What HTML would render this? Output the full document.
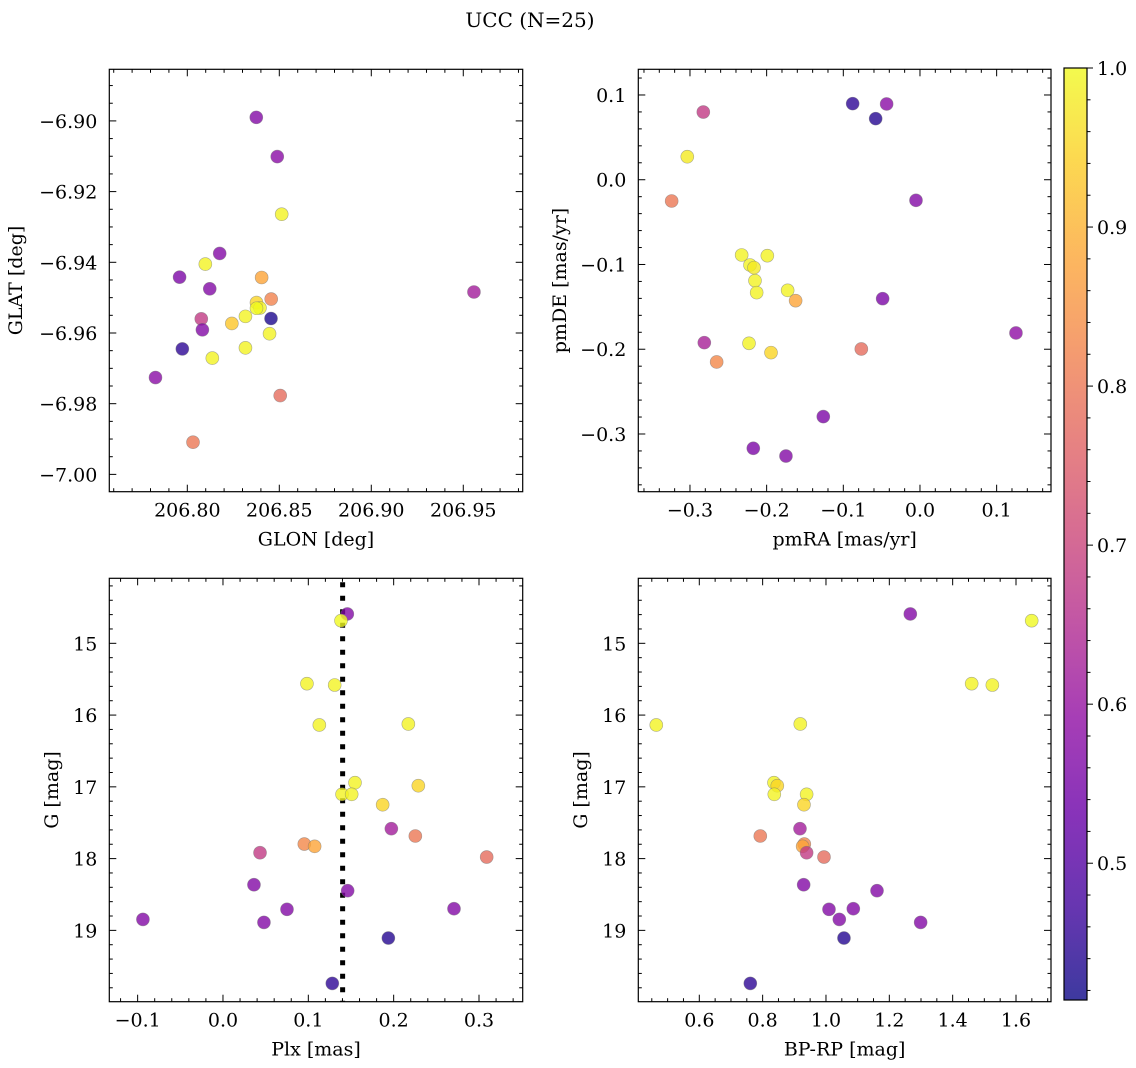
<!DOCTYPE html>
<html><head><meta charset="utf-8">
<style>
html,body{margin:0;padding:0;background:#fff;}
svg{display:block;font-family:"DejaVu Serif","Liberation Serif",serif;}
</style></head>
<body>
<svg id="fig" width="1136" height="1068" viewBox="0 0 1136 1068" xmlns="http://www.w3.org/2000/svg">
<text x="530" y="27" font-size="20" text-anchor="middle">UCC (N=25)</text>
</svg>
<script>
// ---- data ----
const glon = [206.8375,206.8489,206.8513,206.8176,206.8098,206.7958,206.8404,206.8122,206.9558,206.8456,206.8376,206.8395,206.8376,206.8316,206.8076,206.8455,206.8242,206.8082,206.8447,206.7973,206.8316,206.8136,206.7827,206.8505,206.8031];
const glat = [-6.8990,-6.9101,-6.9264,-6.9375,-6.9405,-6.9442,-6.9443,-6.9475,-6.9484,-6.9504,-6.9514,-6.9529,-6.9530,-6.9553,-6.9560,-6.9559,-6.9573,-6.9591,-6.9602,-6.9645,-6.9642,-6.9671,-6.9726,-6.9777,-6.9909];
const probPos = [0.57,0.58,0.99,0.57,0.99,0.56,0.88,0.57,0.62,0.82,0.95,0.99,1.00,0.99,0.68,0.43,0.93,0.57,0.99,0.45,0.99,0.99,0.58,0.78,0.80];

const pmra = [-0.0878,-0.0435,-0.0578,-0.2826,-0.3035,-0.3239,-0.0052,-0.2326,-0.1991,-0.2217,-0.2165,-0.2152,-0.2130,-0.1726,-0.1622,-0.0487,0.1252,-0.2813,-0.2230,-0.1943,-0.0765,-0.2652,-0.1261,-0.2174,-0.1748];
const pmde = [0.0898,0.0894,0.0721,0.0799,0.0272,-0.0251,-0.0243,-0.0888,-0.0896,-0.1006,-0.1037,-0.1191,-0.1332,-0.1305,-0.1427,-0.1403,-0.1808,-0.1922,-0.1930,-0.2040,-0.1997,-0.2150,-0.2795,-0.3169,-0.3260];
const probPm = [0.45,0.58,0.44,0.68,0.98,0.80,0.57,0.99,0.99,0.99,0.98,0.99,0.99,0.99,0.88,0.56,0.59,0.63,0.99,0.95,0.78,0.83,0.56,0.56,0.57];

const plx = [0.1457,0.1383,0.0984,0.1309,0.1129,0.2172,0.1547,0.2289,0.1395,0.1508,0.1871,0.1973,0.2254,0.0953,0.1074,0.0434,0.3090,0.0363,0.1461,0.0750,0.2707,-0.0938,0.0480,0.1938,0.1281];
const gmag = [14.591,14.684,15.562,15.581,16.138,16.124,16.942,16.984,17.104,17.104,17.249,17.583,17.685,17.797,17.829,17.918,17.978,18.364,18.447,18.707,18.698,18.847,18.889,19.107,19.739];
const bprp = [1.2663,1.6495,1.4600,1.5253,0.4642,0.9189,0.8358,0.8463,0.8368,0.9389,0.9305,0.9179,0.7926,0.9316,0.9263,0.9389,0.9937,0.9295,1.1611,1.0095,1.0863,1.0421,1.2989,1.0568,0.7611];
const probPhot = [0.57,1.00,0.99,0.99,0.99,0.99,0.99,0.95,0.99,0.99,0.95,0.62,0.80,0.83,0.88,0.68,0.78,0.57,0.57,0.57,0.57,0.57,0.57,0.44,0.45];

const plxLine = 0.1402;
const cbarTicks = [0.5,0.6,0.7,0.8,0.9,1.0];
const vmin = 0.414, vmax = 1.0;

// ---- helpers ----
const NS = "http://www.w3.org/2000/svg";
const svg = document.getElementById('fig');
function mk(tag, attrs, parent){
  const e = document.createElementNS(NS, tag);
  for (const k in attrs) e.setAttribute(k, attrs[k]);
  (parent||svg).appendChild(e);
  return e;
}
const plasmaStops = ["#0d0887","#41049d","#6a00a8","#8f0da4","#b12a90","#cc4778","#e16462","#f2844b","#fca636","#fcce25","#f0f921"];
function hex2rgb(h){return [parseInt(h.slice(1,3),16),parseInt(h.slice(3,5),16),parseInt(h.slice(5,7),16)];}
function plasma(t){
  t = Math.max(0,Math.min(1,t));
  const f = t*10, i = Math.min(9,Math.floor(f)), r = f-i;
  const a = hex2rgb(plasmaStops[i]), b = hex2rgb(plasmaStops[i+1]);
  const c = a.map((v,k)=>Math.round(v+(b[k]-v)*r));
  return "rgb("+c.join(",")+")";
}
function fmt(v, d){ const s = Math.abs(v).toFixed(d); return (v < -1e-9 ? "\u2212" : "") + s; }

function makeAxes(cfg){
  const {x0,x1,y0,y1,xlim,ylim,invertY} = cfg;
  const sx = v => x0 + (v-xlim[0])/(xlim[1]-xlim[0])*(x1-x0);
  const sy = invertY ? (v => y0 + (v-ylim[0])/(ylim[1]-ylim[0])*(y1-y0))
                     : (v => y1 - (v-ylim[0])/(ylim[1]-ylim[0])*(y1-y0));
  return {sx, sy};
}
function drawFrame(cfg, ax, name){
  const g = mk('g', {});
  
  
  const {x0,x1,y0,y1} = cfg;
  const eps=1e-9;
  const xs = Math.ceil((cfg.xlim[0])/cfg.xminor - eps);
  for (let k = xs; k*cfg.xminor <= cfg.xlim[1]+eps; k++){
    const v = k*cfg.xminor, px = ax.sx(v);
    if (px < x0 || px > x1) continue;
    const isMaj = cfg.xmajor.some(m=>Math.abs(m-v)<cfg.xminor/10);
    const L = isMaj?7:3.5;
    mk('line',{x1:px,y1:y1,x2:px,y2:y1-L,stroke:'#000','stroke-width':1},g);
    mk('line',{x1:px,y1:y0,x2:px,y2:y0+L,stroke:'#000','stroke-width':1},g);
  }
  const lo = Math.min(cfg.ylim[0],cfg.ylim[1]), hi = Math.max(cfg.ylim[0],cfg.ylim[1]);
  const ys = Math.ceil(lo/cfg.yminor - eps);
  for (let k = ys; k*cfg.yminor <= hi+eps; k++){
    const v = k*cfg.yminor, py = ax.sy(v);
    if (py < y0 || py > y1) continue;
    const isMaj = cfg.ymajor.some(m=>Math.abs(m-v)<cfg.yminor/10);
    const L = isMaj?7:3.5;
    mk('line',{x1:x0,y1:py,x2:x0+L,y2:py,stroke:'#000','stroke-width':1},g);
    mk('line',{x1:x1,y1:py,x2:x1-L,y2:py,stroke:'#000','stroke-width':1},g);
  }
  mk('rect',{x:x0,y:y0,width:x1-x0,height:y1-y0,fill:'none',stroke:'#000','stroke-width':1.2},g);
  cfg.xmajor.forEach(v=>{
    const t = mk('text',{x:ax.sx(v),y:y1+25,'font-size':19,'text-anchor':'middle'},g);
    t.textContent = fmt(v, cfg.xdec);
    
    
  });
  cfg.ymajor.forEach(v=>{
    const t = mk('text',{x:x0-12,y:ax.sy(v)+7,'font-size':19,'text-anchor':'end'},g);
    t.textContent = fmt(v, cfg.ydec);
    
    
  });
  const xl = mk('text',{x:(x0+x1)/2,y:y1+54,'font-size':19,'text-anchor':'middle'},g);
  xl.textContent = cfg.xlabel;
  
  
  const cy=(y0+y1)/2;
  const yl = mk('text',{x:cfg.ylabelX,y:cy,'font-size':19,'text-anchor':'middle',transform:`rotate(-90 ${cfg.ylabelX} ${cy})`},g);
  yl.textContent = cfg.ylabel;
  
  
}
function scatter(ax, xs, ys, ps, name){
  const g = mk('g', {});
  
  
  for (let i=0;i<xs.length;i++){
    const c = mk('circle',{cx:ax.sx(xs[i]),cy:ax.sy(ys[i]),r:6.5,fill:plasma((ps[i]-vmin)/(vmax-vmin)),'fill-opacity':0.8,stroke:'#777','stroke-opacity':0.6,'stroke-width':0.6},g);
    
    
  }
}

// ---- panels ----
const P1 = {x0:109.3,x1:522.7,y0:69.3,y1:491.7,xlim:[206.7576,206.9823],ylim:[-7.0049,-6.8854],
  xmajor:[206.80,206.85,206.90,206.95],xminor:0.01,ymajor:[-7.00,-6.98,-6.96,-6.94,-6.92,-6.90],yminor:0.005,
  xdec:2,ydec:2,xlabel:"GLON [deg]",ylabel:"GLAT [deg]",ylabelX:22};
const P2 = {x0:638.3,x1:1051,y0:69.3,y1:491.7,xlim:[-0.3674,0.1709],ylim:[-0.3681,0.1303],
  xmajor:[-0.3,-0.2,-0.1,0.0,0.1],xminor:0.02,ymajor:[-0.3,-0.2,-0.1,0.0,0.1],yminor:0.02,
  xdec:1,ydec:1,xlabel:"pmRA [mas/yr]",ylabel:"pmDE [mas/yr]",ylabelX:566};
const P3 = {x0:109.3,x1:522.7,y0:578.3,y1:1001.7,xlim:[-0.1332,0.3512],ylim:[14.094,19.994],invertY:true,
  xmajor:[-0.1,0.0,0.1,0.2,0.3],xminor:0.02,ymajor:[15,16,17,18,19],yminor:0.2,
  xdec:1,ydec:0,xlabel:"Plx [mas]",ylabel:"G [mag]",ylabelX:58};
const P4 = {x0:638.3,x1:1051,y0:578.3,y1:1001.7,xlim:[0.4074,1.7105],ylim:[14.094,19.994],invertY:true,
  xmajor:[0.6,0.8,1.0,1.2,1.4,1.6],xminor:0.05,ymajor:[15,16,17,18,19],yminor:0.2,
  xdec:1,ydec:0,xlabel:"BP-RP [mag]",ylabel:"G [mag]",ylabelX:587};

const a1 = makeAxes(P1); drawFrame(P1,a1,'glon-glat'); scatter(a1,glon,glat,probPos,'glon-glat');
const a2 = makeAxes(P2); drawFrame(P2,a2,'proper-motion'); scatter(a2,pmra,pmde,probPm,'proper-motion');
const a3 = makeAxes(P3); drawFrame(P3,a3,'plx-g');
const dl = mk('line',{x1:a3.sx(plxLine),y1:P3.y0+4,x2:a3.sx(plxLine),y2:P3.y1,stroke:'#000','stroke-width':5,'stroke-dasharray':'5 8.5'});


scatter(a3,plx,gmag,probPhot,'plx-g');
const a4 = makeAxes(P4); drawFrame(P4,a4,'cmd'); scatter(a4,bprp,gmag,probPhot,'cmd');

// ---- colorbar ----
const cb = {x0:1064,x1:1087,y0:68,y1:1000};
const defs = mk('defs',{});
const grad = mk('linearGradient',{id:'cbg',x1:0,y1:1,x2:0,y2:0},defs);
for (let i=0;i<=40;i++){
  mk('stop',{offset:(i/40),'stop-color':plasma(i/40),'stop-opacity':0.8},grad);
}
const cg = mk('g',{});


mk('rect',{x:cb.x0,y:cb.y0,width:cb.x1-cb.x0,height:cb.y1-cb.y0,fill:'url(#cbg)',stroke:'#000','stroke-width':1.2},cg);
const cy = v => cb.y1 - (v-vmin)/(vmax-vmin)*(cb.y1-cb.y0);
for (let k=Math.ceil(vmin/0.02);k*0.02<=vmax+1e-9;k++){
  const v=k*0.02, py=cy(v);
  const maj = cbarTicks.some(m=>Math.abs(m-v)<0.001);
  mk('line',{x1:cb.x1,y1:py,x2:cb.x1+(maj?6:3.5),y2:py,stroke:'#000','stroke-width':1},cg);
}
cbarTicks.forEach(v=>{
  const t = mk('text',{x:cb.x1+10,y:cy(v)+7,'font-size':19},cg);
  t.textContent = v.toFixed(1);
  
  
});
</script>
</body></html>
